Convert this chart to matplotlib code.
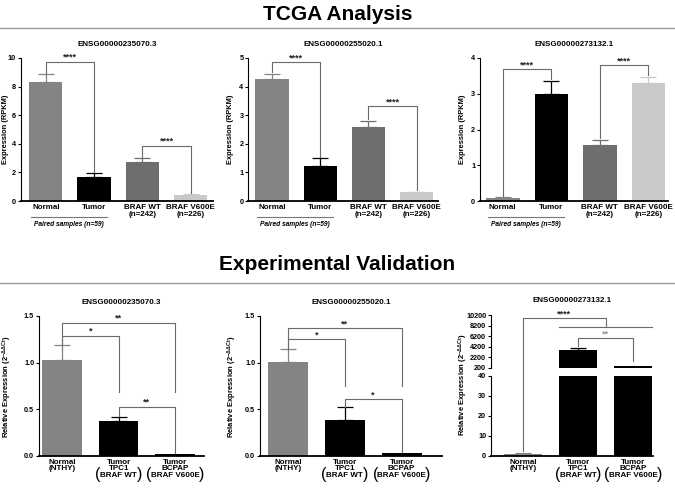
import numpy as np
import matplotlib.pyplot as plt
import matplotlib.transforms as mtransforms

plt.rcParams['font.family'] = ['Liberation Sans', 'DejaVu Sans']
plt.rcParams['font.weight'] = 'bold'
plt.rcParams['mathtext.default'] = 'regular'

# ---------------------------------------------------------------------
# data
genes = ["ENSG00000235070.3", "ENSG00000255020.1", "ENSG00000273132.1"]

tcga_labels = ["Normal", "Tumor", "BRAF WT\n(n=242)", "BRAF V600E\n(n=226)"]
tcga_colors = ["#848484", "#000000", "#6e6e6e", "#c9c9c9"]
tcga_means = [[8.3, 1.65, 2.75, 0.45],
              [4.25, 1.22, 2.6, 0.3],
              [0.08, 3.0, 1.57, 3.3]]
tcga_err = [[0.6, 0.3, 0.25, 0.05],
            [0.2, 0.28, 0.2, 0.03],
            [0.02, 0.35, 0.15, 0.17]]
tcga_yticks = [[0, 2, 4, 6, 8, 10], [0, 1, 2, 3, 4, 5], [0, 1, 2, 3, 4]]
# (bar a, bar b, bracket level, end at a, end at b, label)
tcga_sig = [[(0, 1, 9.75, 8.95, 2.0, "****"), (2, 3, 3.88, 3.05, 0.55, "****")],
            [(0, 1, 4.85, 4.5, 1.55, "****"), (2, 3, 3.31, 2.85, 0.38, "****")],
            [(0, 1, 3.68, 0.15, 3.4, "****"), (2, 3, 3.80, 1.75, 3.52, "****")]]

val_labels = ["Normal\n(NTHY)", "Tumor\nTPC1\nBRAF WT", "Tumor\nBCPAP\nBRAF V600E"]
val_colors = ["#848484", "#000000", "#000000"]
val_means = [[1.03, 0.38, 0.02],
             [1.01, 0.39, 0.03],
             [1.2, 3575, 650]]
val_err = [[0.16, 0.04, 0.0],
           [0.14, 0.13, 0.0],
           [0.4, 375, 0.0]]
val_sig = [[(0, 2, 1.43, 1.19, 0.69, "**"), (0, 1, 1.29, 1.19, 0.69, "*"),
            (1, 2, 0.53, 0.43, 0.03, "**")],
           [(0, 2, 1.37, 1.15, 0.75, "**"), (0, 1, 1.25, 1.15, 0.75, "*"),
            (1, 2, 0.61, 0.53, 0.04, "*")]]
break_low_ticks = [0, 10, 20, 30, 40]
break_high_ticks = [200, 2200, 4200, 6200, 8200, 10200]

BR = "#6a6a6a"
TCGA_YLABEL = "Expression (RPKM)"
VAL_YLABEL = r"Relative Expression (2$^{-\Delta\Delta Ct}$)"


def px_rect(l, r, t, b):
    return [l / 675, 1 - b / 488, (r - l) / 675, (b - t) / 488]


def ylabel_at(x_px, y_px, text, size):
    fig.text(x_px / 675, 1 - y_px / 488, text, rotation=90, ha='center', va='center',
             fontsize=size, fontweight='bold')


def style(ax):
    ax.spines['top'].set_visible(False)
    ax.spines['right'].set_visible(False)
    ax.spines['left'].set_linewidth(0.8)
    ax.spines['bottom'].set_linewidth(1.3)
    ax.tick_params(axis='x', length=0, labelsize=5.8, pad=2)
    ax.tick_params(axis='y', length=2.5, width=0.8, labelsize=5.2, pad=1)


def bars(ax, means, errs, colors, width):
    x = np.arange(len(means))
    ax.bar(x, means, width=width, color=colors)
    for xi, m, e, c in zip(x, means, errs, colors):
        if e > 0:
            ax.errorbar(xi, m, yerr=[[0], [e]], fmt='none', ecolor=c,
                        elinewidth=0.9, capsize=6, capthick=0.9)


def bracket(ax, a, b, y, ya, yb, label, color=BR, tcolor="#222222"):
    ax.plot([a, a, b, b], [ya, y, y, yb], color=color, lw=0.8, clip_on=False)
    ax.text((a + b) / 2, y, label, ha='center', va='bottom', fontsize=6.5,
            color=tcolor, fontweight='bold')


fig = plt.figure(figsize=(6.75, 4.88), dpi=100)

# section headers
fig.text(0.5, 0.971, "TCGA Analysis", ha='center', va='center', fontsize=15, fontweight='bold')
fig.add_artist(plt.Line2D([0, 1], [0.943, 0.943], color="#9a9a9a", lw=1))
fig.text(0.5, 0.457, "Experimental Validation", ha='center', va='center', fontsize=15, fontweight='bold')
fig.add_artist(plt.Line2D([0, 1], [0.42, 0.42], color="#9a9a9a", lw=1))

# ---------------------------------------------------------------------
# TCGA panels
top_rects = [px_rect(20.7, 213, 58, 201), px_rect(248.3, 438.3, 58, 201), px_rect(480, 668.3, 58, 201)]
top_xlims = [(-0.52, 3.46), (-0.49, 3.45), (-0.47, 3.41)]
top_label_x = [5.5, 231, 462.5]
for k in range(3):
    ax = fig.add_axes(top_rects[k])
    style(ax)
    bars(ax, tcga_means[k], tcga_err[k], tcga_colors, 0.69)
    ax.set_xlim(*top_xlims[k])
    ax.set_ylim(tcga_yticks[k][0], tcga_yticks[k][-1])
    ax.set_yticks(tcga_yticks[k])
    ax.set_xticks(range(4))
    ax.set_xticklabels(tcga_labels, linespacing=1.05)
    ax.set_title(genes[k], fontsize=5.8, fontweight='bold', pad=9)
    ylabel_at(top_label_x[k], 129.5, TCGA_YLABEL, 5.4)
    for s in tcga_sig[k]:
        bracket(ax, *s)
    # paired samples underline
    tr = ax.get_xaxis_transform()
    ax.plot([-0.3, 1.27], [-0.115, -0.115], color="#777777", lw=0.8,
            transform=tr, clip_on=False)
    ax.text(0.48, -0.14, "Paired samples (n=59)", transform=tr, ha='center', va='top',
            fontsize=4.8, style='italic', fontweight='bold')


def parens(ax, xi, dx):
    for sign, ch in [(-1, "("), (1, ")")]:
        t = mtransforms.offset_copy(ax.get_xaxis_transform(), fig=fig,
                                    x=sign * dx, y=-13, units='points')
        ax.text(xi, 0, ch, transform=t, ha='center', va='center', fontsize=11.5,
                fontweight='normal')


# ---------------------------------------------------------------------
# validation panels (first two)
bot_rects = [px_rect(39, 204, 316, 456), px_rect(260, 442, 316, 456)]
bot_xlims = [(-0.41, 2.51), (-0.49, 2.71)]
bot_label_x = [7, 232.5]
for k in range(2):
    ax = fig.add_axes(bot_rects[k])
    style(ax)
    bars(ax, val_means[k], val_err[k], val_colors, 0.7)
    ax.set_xlim(*bot_xlims[k])
    ax.set_ylim(0, 1.5)
    ax.set_yticks([0, 0.5, 1.0, 1.5])
    ax.set_yticklabels(["0.0", "0.5", "1.0", "1.5"])
    ax.set_xticks(range(3))
    ax.set_xticklabels(val_labels, linespacing=0.9)
    ax.set_title(genes[k], fontsize=5.8, fontweight='bold', pad=9)
    ylabel_at(bot_label_x[k], 387, VAL_YLABEL, 5.5)
    for s in val_sig[k]:
        bracket(ax, *s)
    parens(ax, 1, 15)
    parens(ax, 2, 19)

# ---------------------------------------------------------------------
# broken-axis panel (upper part only holds the two tumour bars, x shifted by 1)
ax_hi = fig.add_axes(px_rect(491, 653, 315, 368))
ax_lo = fig.add_axes(px_rect(491, 653, 376, 456))
for ax in (ax_hi, ax_lo):
    style(ax)
bars(ax_lo, val_means[2], val_err[2], val_colors, 0.68)
bars(ax_hi, val_means[2][1:], val_err[2][1:], val_colors[1:], 0.68)
ax_lo.set_xlim(-0.58, 2.36)
ax_hi.set_xlim(-1.58, 1.36)
ax_hi.spines['bottom'].set_visible(False)
ax_hi.set_xticks([])
ax_hi.set_ylim(break_high_ticks[0], break_high_ticks[-1])
ax_hi.set_yticks(break_high_ticks)
ax_lo.set_ylim(break_low_ticks[0], break_low_ticks[-1])
ax_lo.set_yticks(break_low_ticks)
ax_lo.set_xticks(range(3))
ax_lo.set_xticklabels(val_labels, linespacing=0.9)
ax_hi.set_title(genes[2], fontsize=5.8, fontweight='bold', pad=9)
ylabel_at(463.5, 385, VAL_YLABEL, 5.5)
parens(ax_lo, 1, 15)
parens(ax_lo, 2, 19)

# **** bracket Normal vs both tumours, crossing the break
ax_lo.plot([0, 0], [2.5, 40], color=BR, lw=0.8, clip_on=False)
to_fig = fig.transFigure.inverted()
p_lo = to_fig.transform(ax_lo.transData.transform((0, 40)))
p_hi = to_fig.transform(ax_hi.transData.transform((-1, 200)))
fig.add_artist(plt.Line2D([p_lo[0], p_hi[0]], [p_lo[1], p_hi[1]], color=BR, lw=0.8))
ax_hi.plot([-1, -1, 0.5, 0.5], [200, 9575, 9575, 8000], color=BR, lw=0.8, clip_on=False)
ax_hi.plot([-0.34, 1.34], [8000, 8000], color=BR, lw=0.8, clip_on=False)
ax_hi.text(-0.25, 9575, "****", ha='center', va='bottom', fontsize=6.5, color="#222222")
bracket(ax_hi, 0, 1, 5825, 4260, 1450, "**", color=BR, tcolor="#9a9a9a")

fig.savefig("out.png", dpi=100)
